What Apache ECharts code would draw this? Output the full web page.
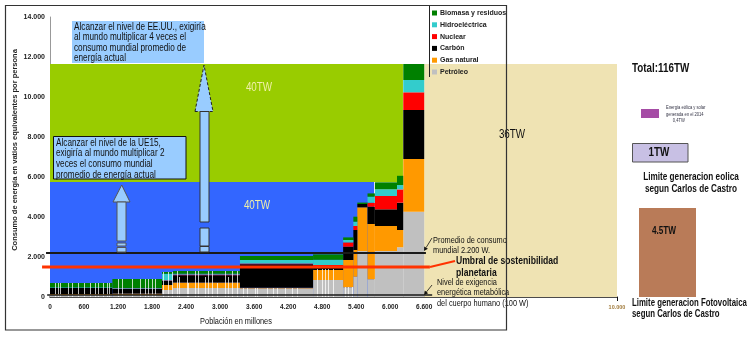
<!DOCTYPE html>
<html><head><meta charset="utf-8">
<script src="https://cdn.jsdelivr.net/npm/echarts@6/dist/echarts.min.js"></script>
<style>html,body{margin:0;padding:0;background:#fff}#c{width:750px;height:339px}</style>
</head><body><div id="c"></div>
<script>
// ---------- datos ----------
const fuentes = ['Petróleo','Gas natural','Carbón','Nuclear','Hidroeléctrica','Biomasa y residuos'];
const coloresFuentes = ['#C0C0C0','#FF9900','#000000','#FF0000','#33CCCC','#008000'];
// tramos de población (millones), ordenados por consumo per cápita
const tramoInicio = [0,1100,1975,2170,3350,4640,5170,5350,5420,5600,5730,6120,6230];
const tramoFin    = [1100,1975,2170,3350,4640,5170,5350,5420,5600,5730,6120,6230,6600];
// consumo por persona (W) por fuente en cada tramo
const petroleo   = [100,100,350,450,420,850,485,1015,2300,885,2300,2485,4265];
const gasNatural = [50,80,250,270,40,500,1365,1335,2185,2765,1250,865,2635];
const carbon     = [300,220,200,370,1180,120,665,1000,165,865,835,1365,2450];
const nuclear    = [0,20,30,40,40,130,215,200,0,200,665,665,885];
const hidro      = [20,30,330,30,170,260,120,215,0,300,335,215,615];
const biomasa    = [230,450,90,140,200,270,130,250,70,165,350,465,800];
// separaciones entre países (líneas blancas)
const lineasBlancasX = [88,136,176,323,383,499,605,705,794,852,940,1000,1046,
  1205,1275,1441,1587,1675,1734,1794,1852, 1998,2086,2146,
  2235,2280,2411,2439,2557,2616,2734,2792,2852,2940,3086,3144,3205,3293,
  3409,3469,3616,3646,3822,3938,3998,4145,4263,4351, 4704,4792,4850,4908,4997, 5203,5256,5321];
const lineasBlancasAlto = [700,700,700,700,700,700,700,700,700,700,700,700,700,
  900,900,900,900,900,900,900,900, 1250,1250,1250,
  1300,1000,1300,700,1300,1300,1000,1300,1300,700,1300,1000,1300,1300,
  450,450,450,450,450,450,450,450,450,450, 1400,1400,1400,1400,1400, 500,500,500];
// zonas: 40TW (verde), 40TW (azul), 36TW (beige)
const zonaX0 = [0,0,6600];
const zonaX1 = [6225,5715,10000];
const zonaY0 = [5750,0,0];
const zonaY1 = [11650,5750,11650];
const zonaColores = ['#99CC00','#3366FF','#EFE3B3'];
// líneas de referencia (W): promedio mundial, umbral, metabólico
const refValor = [2200,1500,100];
const refDesde = [-70,-140,-50];
const refHasta = [6630,6700,6740];
const refColor = ['#1a1a1a','#FF3300','#1a1a1a'];
const refAncho = [2,3,1.5];
// etiquetas de ejes
const etiquetasX = [0,600,1200,1800,2400,3000,3600,4200,4800,5400,6000,6600,10000];
const etiquetasY = [0,2000,4000,6000,8000,10000,12000,14000];

// ---------- construcción ----------
const FONT = "'Liberation Sans',Arial,sans-serif";
const fmt = v => String(v).replace(/\B(?=(\d{3})+(?!\d))/g,'.');
const capas = [petroleo,gasNatural,carbon,nuclear,hidro,biomasa];

function rectRender(colorFn){
  return function(params, api){
    const a = api.coord([api.value(0), api.value(3)]);
    const b = api.coord([api.value(1), api.value(2)]);
    return {type:'rect', shape:{x:a[0], y:a[1], width:b[0]-a[0], height:b[1]-a[1]},
      style:{fill: colorFn(params.dataIndex)}};
  };
}

const series = [];
series.push({
  type:'custom', name:'zonas', z:1, silent:true,
  data: zonaX0.map((x,i)=>[x, zonaX1[i], zonaY0[i], zonaY1[i]]),
  encode:{x:[0,1], y:[2,3]},
  renderItem: rectRender(i=>zonaColores[i])
});
const bases = tramoInicio.map(()=>0);
capas.forEach((arr,k)=>{
  const data = tramoInicio.map((x0,i)=>{
    const b = bases[i]; bases[i] += arr[i];
    return [x0, tramoFin[i], b, bases[i]];
  });
  series.push({
    type:'custom', name:fuentes[k], z:2, silent:true,
    itemStyle:{color:coloresFuentes[k]},
    data, encode:{x:[0,1], y:[2,3]},
    renderItem: rectRender(()=>coloresFuentes[k])
  });
});
series.push({
  type:'custom', name:'separaciones', z:3, silent:true,
  data: lineasBlancasX.map((x,i)=>[x, lineasBlancasAlto[i]]),
  encode:{x:0, y:1},
  renderItem(params, api){
    const a = api.coord([api.value(0), 0]);
    const b = api.coord([api.value(0), api.value(1)]);
    return {type:'line', shape:{x1:Math.round(a[0])+0.5, y1:a[1], x2:Math.round(a[0])+0.5, y2:b[1]},
      style:{stroke:'rgba(255,255,255,0.75)', lineWidth:1}};
  }
});
series.push({
  type:'custom', name:'referencias', z:4, silent:true, clip:false,
  data: refValor.map((v,i)=>[refDesde[i], refHasta[i], v]),
  encode:{x:[0,1], y:2},
  renderItem(params, api){
    const i = params.dataIndex;
    const a = api.coord([api.value(0), api.value(2)]);
    const b = api.coord([api.value(1), api.value(2)]);
    return {type:'line', shape:{x1:a[0], y1:a[1], x2:b[0], y2:b[1]},
      style:{stroke:refColor[i], lineWidth:refAncho[i]}};
  }
});

function flecha(x1,y1,x2,y2,color,w){
  const ang = Math.atan2(y2-y1, x2-x1), L=4, W=2.2;
  const bx = x2 - L*Math.cos(ang), by = y2 - L*Math.sin(ang);
  return [
    {type:'line', z:60, shape:{x1,y1,x2:bx,y2:by}, style:{stroke:color, lineWidth:w}},
    {type:'polygon', z:60, shape:{points:[[x2,y2],[bx+W*Math.sin(ang), by-W*Math.cos(ang)],[bx-W*Math.sin(ang), by+W*Math.cos(ang)]]}, style:{fill:color}}
  ];
}
// texto "estrecho" (escala horizontal como en el original)
function txt(x,y,text,size,opts,sx){
  return {type:'text', z:70, x, y, scaleX: sx===undefined?0.82:sx, scaleY:1,
    style:Object.assign({text, fontFamily:FONT, fontSize:size, fill:'#111', verticalAlign:'top'}, opts||{})};
}
const AZUL_CLARO = '#99CCFF';
const graphic = [
  // flecha grande (EE.UU.)
  {type:'polygon', z:50, shape:{points:[[195,111.5],[204,65],[213,111.5]]}, style:{fill:AZUL_CLARO, stroke:'#222', lineWidth:1, lineDash:[3,2]}},
  {type:'rect', z:50, shape:{x:200,y:111.5,width:9,height:110.5}, style:{fill:AZUL_CLARO, stroke:'#333', lineWidth:1}},
  {type:'rect', z:50, shape:{x:200,y:228,width:9,height:18}, style:{fill:AZUL_CLARO, stroke:'#333', lineWidth:1}},
  {type:'rect', z:50, shape:{x:200,y:246.5,width:9,height:5.5}, style:{fill:AZUL_CLARO, stroke:'#333', lineWidth:1}},
  // flecha pequeña (UE15)
  {type:'polygon', z:50, shape:{points:[[113,202],[121.7,185],[130,202]]}, style:{fill:AZUL_CLARO, stroke:'#555', lineWidth:1}},
  {type:'rect', z:50, shape:{x:117,y:202,width:9,height:39}, style:{fill:AZUL_CLARO, stroke:'#555', lineWidth:1}},
  {type:'rect', z:50, shape:{x:117,y:243,width:9,height:3}, style:{fill:AZUL_CLARO, stroke:'#555', lineWidth:1}},
  {type:'rect', z:50, shape:{x:117,y:247.5,width:9,height:4.5}, style:{fill:AZUL_CLARO, stroke:'#555', lineWidth:1}},
  // cuadros de texto
  {type:'rect', z:55, shape:{x:72,y:21,width:132,height:42}, style:{fill:AZUL_CLARO}},
  txt(74,21.8,'Alcanzar el nivel de EE.UU., exigiría\nal mundo multiplicar 4 veces el\nconsumo mundial promedio de\nenergía actual',10,{lineHeight:10.5}),
  {type:'rect', z:55, shape:{x:53.5,y:136.5,width:132.5,height:42.5}, style:{fill:AZUL_CLARO, stroke:'#111', lineWidth:1}},
  txt(56,137.6,'Alcanzar el nivel de la UE15,\nexigiría al mundo multiplicar 2\nveces el consumo mundial\npromedio de energía actual',10,{lineHeight:10.7}),
  // etiquetas de zonas
  txt(259,88,'40TW',12,{fill:'#F0F0A8', align:'center', verticalAlign:'middle'}),
  txt(257,206,'40TW',12,{fill:'#F0F0A8', align:'center', verticalAlign:'middle'}),
  txt(512,135,'36TW',12,{align:'center', verticalAlign:'middle'}),
  // anotaciones de líneas
  ...flecha(432,238,424,251,'#111',0.8),
  ...flecha(432,285,424,295,'#111',0.8),
  {type:'line', z:60, shape:{x1:430,y1:267,x2:455,y2:261}, style:{stroke:'#FF3300', lineWidth:2}},
  txt(433,236,'Promedio de consumo\nmundial 2.200 W.',9,{lineHeight:10}),
  txt(456,254.8,'Umbral de sostenibilidad\nplanetaria',10.5,{lineHeight:12.5, fontWeight:'bold'}),
  txt(437,276.8,'Nivel de exigencia\nenergética metabólica\ndel cuerpo humano (100 W)',9,{lineHeight:10.5}),
  // títulos de ejes
  txt(236,322,'Población en millones',9,{align:'center', verticalAlign:'middle'}),
  {type:'text', z:70, x:15, y:150, rotation:Math.PI/2,
    style:{text:'Consumo de energía en vatios equivalentes por persona', fontFamily:FONT, fontSize:7.5, fontWeight:'bold', fill:'#222', align:'center', verticalAlign:'middle'}},
  // leyenda: línea lateral
  {type:'line', z:60, shape:{x1:429.5,y1:5,x2:429.5,y2:77}, style:{stroke:'#222', lineWidth:1}},
  // marco
  {type:'rect', z:80, shape:{x:5.5,y:5.5,width:501,height:324.5}, style:{fill:'none', stroke:'#333', lineWidth:1.2}},
  // lado derecho
  txt(632,69,'Total:116TW',12,{fontWeight:'bold', verticalAlign:'middle'}),
  {type:'rect', z:60, shape:{x:641,y:109,width:18,height:9}, style:{fill:'#A54CA5'}},
  txt(666,104.5,'Energía eólica y solar\ngenerada en el 2014\n      0,4TW',5,{lineHeight:6.5, fill:'#334'}),
  {type:'rect', z:60, shape:{x:632.5,y:143.5,width:55.5,height:18.5}, style:{fill:'#C8C0E4', stroke:'#555', lineWidth:1}},
  txt(659,152.5,'1TW',12,{fontWeight:'bold', align:'center', verticalAlign:'middle'}),
  txt(691,171,'Limite generacion eolica\nsegun Carlos de Castro',10,{fontWeight:'bold', align:'center', lineHeight:12}),
  {type:'rect', z:60, shape:{x:639,y:208,width:57,height:89}, style:{fill:'#B97B58'}},
  txt(664,231,'4.5TW',10,{fontWeight:'bold', align:'center', verticalAlign:'middle'}),
  txt(632,297.3,'Limite generacion Fotovoltaica\nsegun Carlos de Castro',10,{fontWeight:'bold', lineHeight:11.5},0.78)
];

const chart = echarts.init(document.getElementById('c'), null, {renderer:'canvas'});
chart.setOption({
  animation:false,
  backgroundColor:'#fff',
  grid:{left:50, top:17, right:133, bottom:42, containLabel:false, outerBoundsMode:'none'},
  legend:{
    orient:'vertical', left:432, top:9, padding:0, itemGap:3.8, itemWidth:5, itemHeight:5,
    icon:'rect', selectedMode:false,
    data:['Biomasa y residuos','Hidroeléctrica','Nuclear','Carbón','Gas natural','Petróleo'],
    textStyle:{fontFamily:FONT, fontSize:7, lineHeight:8, fontWeight:'bold', color:'#222', padding:[0,0,0,-2]}
  },
  xAxis:{
    type:'value', min:0, max:10000,
    axisLine:{show:true, lineStyle:{color:'#111', width:1.5}},
    axisTick:{show:true, customValues:[10000], length:4, inside:false, lineStyle:{color:'#111'}},
    splitLine:{show:false},
    axisLabel:{customValues:etiquetasX, margin:7, fontFamily:FONT, fontSize:6.5, fontWeight:'bold', color:'#222',
      formatter:v=> v===10000 ? '{s|10.000}' : fmt(v),
      rich:{s:{fontSize:5.5, color:'#a07a3a', fontFamily:FONT}}}
  },
  yAxis:{
    type:'value', min:0, max:14000, interval:2000,
    axisLine:{show:true, lineStyle:{color:'#999', width:1}},
    axisTick:{show:false}, splitLine:{show:false},
    axisLabel:{margin:5, fontFamily:FONT, fontSize:7, fontWeight:'bold', color:'#222', formatter:v=>fmt(v)}
  },
  series,
  graphic
});
</script></body></html>
